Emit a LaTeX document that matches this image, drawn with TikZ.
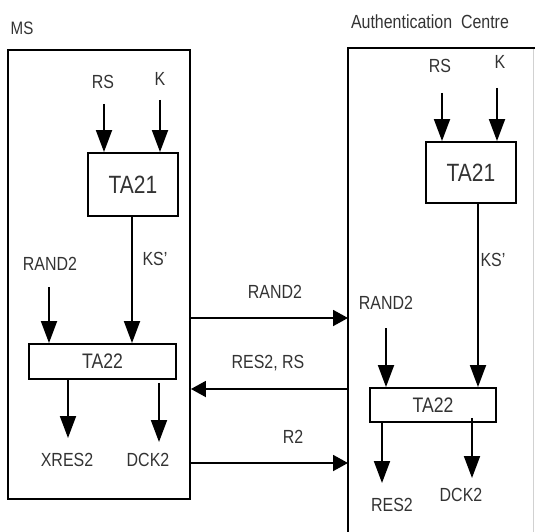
\documentclass[tikz,border=0pt]{standalone}
\usepackage{fontspec}
\setmainfont{Liberation Sans}[FakeStretch=0.84]
\usetikzlibrary{arrows.meta}
\begin{document}
\begin{tikzpicture}[x=1pt,y=-1pt,
  box/.style={draw, line width=1.9pt, inner sep=0pt, text=black!80},
  lbl/.style={font=\fontsize{19}{19}\selectfont, text=black!80, inner sep=0pt},
  varr/.style={line width=1.9pt, -{Triangle[length=22pt,width=16pt]}},
  harr/.style={line width=1.9pt, -{Triangle[length=15pt,width=16pt]}}]
\useasboundingbox (0,0) rectangle (535,532);
% outer boxes
\node[box, minimum width=182pt, minimum height=449pt] (ms) at (99,274.5) {};
\coordinate (acBL) at (348,534);
\coordinate (acTL) at (348,48);
\coordinate (acTR) at (536,48);
\draw[line width=1.9pt] (acBL) -- (acTL) -- (acTR);
\draw[black!18, line width=0.8pt] (533,49) -- (533,532);
\node[lbl, font=\fontsize{18}{18}\selectfont] (mslbl) at (22,28) {MS};
\node[lbl] (aclbl) at (430,22) {Authentication\ \ Centre};
% left blocks
\node[box, minimum width=90pt, minimum height=63pt, font=\fontsize{25}{25}\selectfont] (ta21L) at (133,184.5) {TA21};
\node[box, minimum width=147pt, minimum height=35pt, font=\fontsize{21}{21}\selectfont] (ta22L) at (102.5,361.5) {TA22};
% right blocks
\node[box, minimum width=90pt, minimum height=61pt, font=\fontsize{25}{25}\selectfont] (ta21R) at (471,172.5) {TA21};
\node[box, minimum width=126pt, minimum height=34pt, font=\fontsize{21}{21}\selectfont] (ta22R) at (433,405) {TA22};
% left labels
\node[lbl] (rsL) at (103,82) {RS};
\node[lbl] (kL) at (160,79) {K};
\node[lbl] (ksLl) at (155,259) {KS'};
\node[lbl] (randL) at (50,264) {RAND2};
\node[lbl] (xresL) at (67,460) {XRES2};
\node[lbl] (dckL) at (148,460) {DCK2};
% right labels
\node[lbl] (rsR) at (440,66) {RS};
\node[lbl] (kR) at (500,62) {K};
\node[lbl] (ksRl) at (493,260) {KS'};
\node[lbl] (randR) at (386,303) {RAND2};
\node[lbl] (resR) at (392,505) {RES2};
\node[lbl] (dckR) at (461,495) {DCK2};
% middle labels
\node[lbl] (randM) at (275,292) {RAND2};
\node[lbl] (resM) at (268,363) {RES2, RS};
\node[lbl] (r2M) at (293,437) {R2};
% left arrows
\coordinate (rsLs) at (104,104);
\coordinate (kLs) at (160,100);
\coordinate (ksLx) at (132,0);
\coordinate (randLs) at (49,287);
\coordinate (xresLe) at (68,438);
\coordinate (dckLe) at (159,442);
\draw[varr] (rsLs) -- (rsLs |- ta21L.north);
\draw[varr] (kLs) -- (kLs |- ta21L.north);
\draw[varr] (ta21L.south -| ksLx) -- (ta22L.north -| ksLx);
\draw[varr] (randLs) -- (randLs |- ta22L.north);
\draw[varr] (ta22L.south -| xresLe) -- (xresLe);
\draw[varr] ([yshift=-3pt]ta22L.south -| dckLe) -- (dckLe);
% right arrows
\coordinate (rsRs) at (442,93);
\coordinate (kRs) at (497,88);
\coordinate (ksRx) at (478,0);
\coordinate (randRs) at (386,328);
\coordinate (resRe) at (382,483);
\coordinate (dckRe) at (472,478);
\draw[varr] (rsRs) -- (rsRs |- ta21R.north);
\draw[varr] (kRs) -- (kRs |- ta21R.north);
\draw[varr] (ta21R.south -| ksRx) -- (ta22R.north -| ksRx);
\draw[varr] (randRs) -- (randRs |- ta22R.north);
\draw[varr] (ta22R.south -| resRe) -- (resRe);
\draw[varr] ([yshift=5pt]ta22R.south -| dckRe) -- (dckRe);
% middle arrows
\coordinate (m1) at (0,318);
\coordinate (m2) at (0,389);
\coordinate (m3) at (0,463);
\draw[harr] (ms.east |- m1) -- (acTL |- m1);
\draw[harr] (acTL |- m2) -- (ms.east |- m2);
\draw[harr] (ms.east |- m3) -- (acTL |- m3);
\end{tikzpicture}
\end{document}
